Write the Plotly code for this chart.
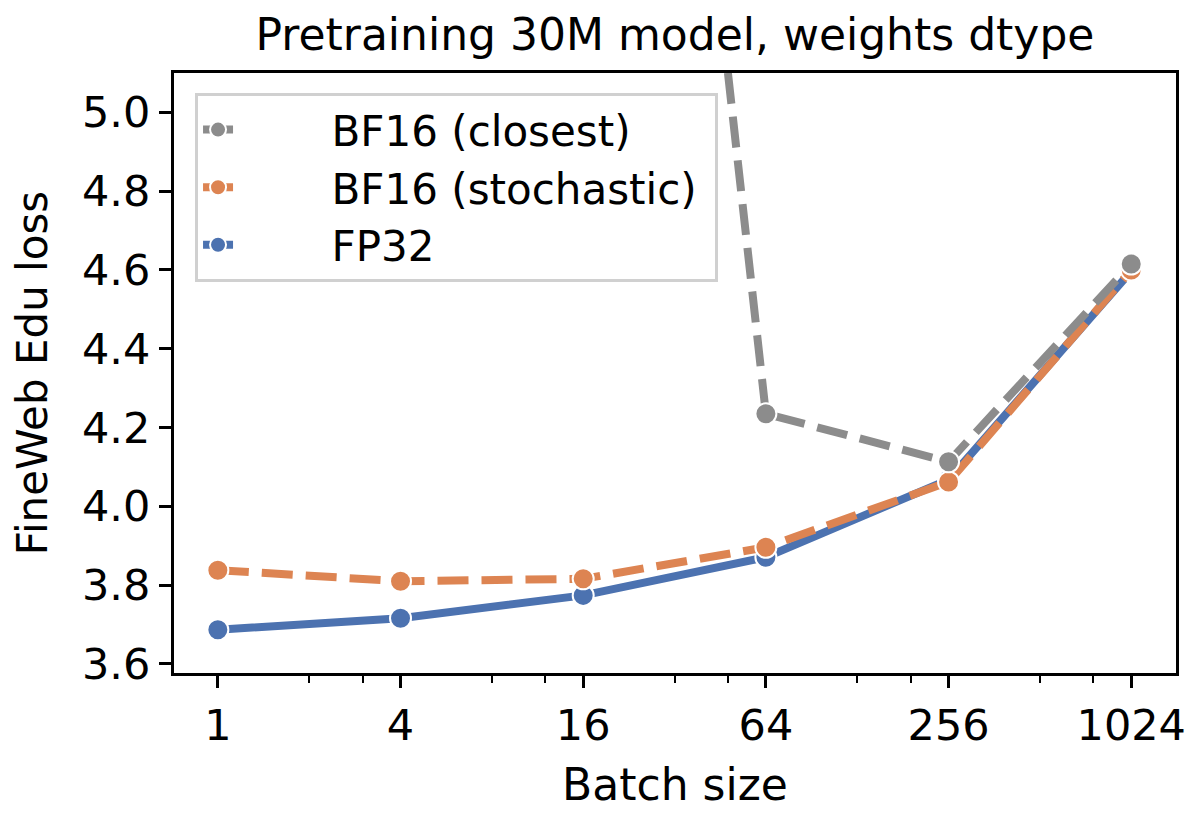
import math
import plotly.graph_objects as go

batch_sizes = [1, 4, 16, 64, 256, 1024]
bf16_closest = [9.4, 9.0, 8.4, 4.235, 4.113, 4.615]
bf16_stochastic = [3.838, 3.810, 3.816, 3.896, 4.062, 4.600]
fp32 = [3.687, 3.716, 3.774, 3.871, 4.068, 4.597]

x_ticks = [1, 4, 16, 64, 256, 1024]
x_minor = [2, 3, 8, 12, 32, 48, 128, 192, 512, 768]
y_ticks = [3.6, 3.8, 4.0, 4.2, 4.4, 4.6, 4.8, 5.0]

BLUE = "#4C72B0"
ORANGE = "#DD8452"
GRAY = "#8C8C8C"
FONT = "DejaVu Sans"
PAD = "\u00a0" * 7

fig = go.Figure()

def add(name, y, color, dash):
    fig.add_trace(go.Scatter(
        x=batch_sizes, y=y, name=PAD + name + "\u00a0", mode="lines+markers",
        line=dict(color=color, width=8, dash=dash),
        marker=dict(size=21, color=color, line=dict(color="white", width=2)),
    ))

add("FP32", fp32, BLUE, "solid")
add("BF16 (stochastic)", bf16_stochastic, ORANGE, "31px,13px")
add("BF16 (closest)", bf16_closest, GRAY, "31px,13px")

lo = -0.48 * math.log10(2)
hi = 10.49 * math.log10(2)

fig.update_layout(
    width=1192, height=813,
    margin=dict(l=166, r=24, t=65, b=148),
    paper_bgcolor="white", plot_bgcolor="white",
    font=dict(family=FONT, size=42, color="black"),
    title=dict(text="Pretraining 30M model, weights dtype", x=0.5, xanchor="center",
               xref="paper", y=0.967, yanchor="middle", font=dict(size=44)),
    showlegend=True,
    legend=dict(x=0.021, y=0.967, xanchor="left", yanchor="top",
                traceorder="reversed", bgcolor="white",
                bordercolor="#d0d0d0", borderwidth=3,
                font=dict(size=42), tracegroupgap=0),
    xaxis=dict(
        type="log", range=[lo, hi], tickvals=x_ticks,
        ticktext=[str(v) for v in x_ticks],
        showline=True, linecolor="black", linewidth=3, mirror=True,
        ticks="outside", ticklen=12, tickwidth=3, tickcolor="black",
        showgrid=False, zeroline=False,
        minor=dict(tickvals=x_minor, ticks="outside", ticklen=7, tickwidth=2,
                   tickcolor="black", showgrid=False),
        title=dict(text="Batch size", font=dict(size=44), standoff=21),
        tickfont=dict(size=43),
    ),
    yaxis=dict(
        range=[3.577, 5.1], tickvals=y_ticks,
        ticktext=[f"{v:.1f}" for v in y_ticks],
        showline=True, linecolor="black", linewidth=3, mirror=True,
        ticks="outside", ticklen=12, tickwidth=3, tickcolor="black",
        showgrid=False, zeroline=False,
        title=dict(text="FineWeb Edu loss", font=dict(size=42), standoff=24),
        tickfont=dict(size=43),
    ),
)

fig.write_html("out.html")
